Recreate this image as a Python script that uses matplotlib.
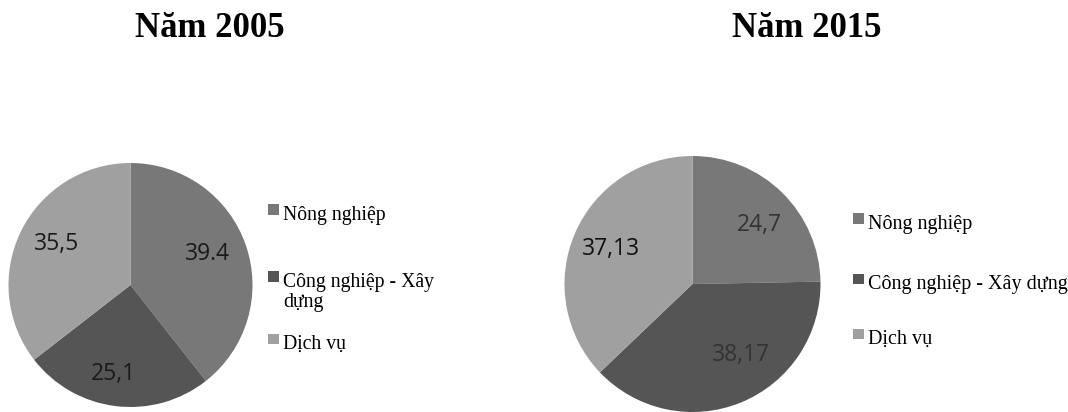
import matplotlib
matplotlib.use("Agg")
import matplotlib.pyplot as plt
from matplotlib.patches import Rectangle
import numpy as np

categories = ["Nông nghiệp", "Công nghiệp - Xây dựng", "Dịch vụ"]
values_2005 = [39.4, 25.1, 35.5]
values_2015 = [24.7, 38.17, 37.13]
labels_2005 = ["39.4", "25,1", "35,5"]
labels_2015 = ["24,7", "38,17", "37,13"]
titles = ["Năm 2005", "Năm 2015"]
legend_2005 = ["Nông nghiệp", "Công nghiệp - Xây\ndựng", "Dịch vụ"]
legend_2015 = ["Nông nghiệp", "Công nghiệp - Xây dựng", "Dịch vụ"]

colors = ["#787878", "#555555", "#a0a0a0"]

W, H = 1068, 412
fig = plt.figure(figsize=(W / 100, H / 100), dpi=100)
fig.patch.set_facecolor("white")


def px_axes(cx, cy, r):
    return fig.add_axes([(cx - r) / W, (H - cy - r) / H, 2 * r / W, 2 * r / H])


def draw_pie(ax, values, labels, label_colors, offsets, dist):
    wedges, _ = ax.pie(values, colors=colors, startangle=90, counterclock=False,
                       wedgeprops=dict(linewidth=0))
    ax.set_xlim(-1, 1)
    ax.set_ylim(-1, 1)
    ax.set_aspect("equal")
    ax.axis("off")
    for w, lab, c, off, d in zip(wedges, labels, label_colors, offsets, dist):
        mid = np.deg2rad((w.theta1 + w.theta2) / 2 + off)
        ax.text(d * np.cos(mid), d * np.sin(mid), lab, ha="center", va="center",
                fontsize=16.5, family="Open Sans", color=c)
    return wedges


ax1 = px_axes(130.5, 285, 122)
draw_pie(ax1, values_2005, labels_2005, ["#1a1a1a", "#1a1a1a", "#1a1a1a"],
         [3, -4, -3], [0.68, 0.74, 0.69])
ax2 = px_axes(692.5, 284, 128)
draw_pie(ax2, values_2015, labels_2015, ["#333333", "#333333", "#111111"],
         [-4, 12, 0], [0.70, 0.67, 0.69])

# titles
fig.text(210 / W, 1 - 37 / H, titles[0], ha="center", va="baseline",
         fontsize=25, fontweight="bold", family="Liberation Serif", color="black")
fig.text(807 / W, 1 - 37 / H, titles[1], ha="center", va="baseline",
         fontsize=25, fontweight="bold", family="Liberation Serif", color="black")


def draw_legend(x_sq, x_txt, ys, texts, fs, sq=10.5, line_step=21):
    for y, t, c in zip(ys, texts, colors):
        fig.patches.append(Rectangle((x_sq / W, (H - y - sq / 2) / H), sq / W, sq / H,
                                     transform=fig.transFigure, facecolor=c,
                                     edgecolor="none"))
        for i, line in enumerate(t.split("\n")):
            fig.text(x_txt / W, 1 - (y + 10 + i * line_step) / H, line, ha="left",
                     va="baseline", fontsize=fs, family="Liberation Serif",
                     color="black")


draw_legend(268, 283, [209.5, 276.5, 339], legend_2005, 14.2)
draw_legend(853, 868, [218.5, 279, 334], legend_2015, 14.5)

fig.savefig("out.png", dpi=100)
